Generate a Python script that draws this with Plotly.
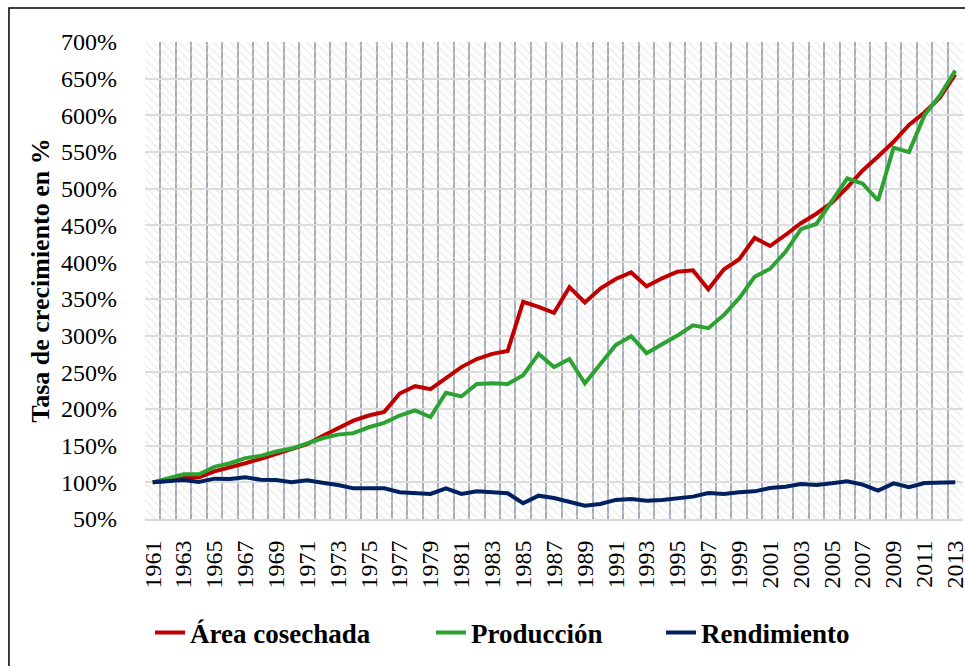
import plotly.graph_objects as go

years = list(range(1961, 2014))

area_cosechada = [100, 102, 106, 107, 115, 120, 126, 132, 139, 146,
                  152, 163, 174, 184, 191, 196, 221, 231, 227, 242,
                  257, 268, 275, 279, 346, 339, 331, 366, 345, 364,
                  377, 386, 367, 378, 387, 389, 363, 390, 404, 433,
                  422, 437, 453, 466, 481, 502, 525, 544, 564, 587,
                  604, 624, 656]

produccion = [100, 105, 111, 111, 121, 126, 133, 136, 142, 146,
              153, 160, 165, 167, 175, 181, 191, 198, 189, 222,
              217, 234, 235, 234, 246, 275, 257, 268, 235, 260,
              287, 299, 276, 288, 300, 314, 310, 328, 351, 380,
              391, 414, 445, 452, 482, 514, 507, 484, 556, 550,
              600, 627, 661]

rendimiento = [100, 101.8, 103, 100.5, 105, 104.5, 106.8, 103.6, 103.2, 100,
               102.7, 99.5, 96.4, 91.8, 91.8, 91.8, 86.4, 85.5, 84.1, 91.8,
               84.1, 87.7, 86.4, 85, 71.4, 81.8, 78.7, 73.7, 68.2, 70.5,
               76, 77.3, 75, 76, 77.8, 80.5, 85.5, 84.1, 86.4, 87.7,
               92.3, 94.1, 97.7, 96.4, 98.6, 101.4, 96.8, 88.6, 98.6, 93.2,
               99.1, 100, 100]

y_ticks = list(range(50, 701, 50))
y_ticktext = [f"{v}%" for v in y_ticks]
x_ticks = list(range(1961, 2014, 2))

series_names = ["Área cosechada", "Producción", "Rendimiento"]
series_colors = ["#c00000", "#2ca232", "#002060"]
legend_ids = ["legend", "legend2", "legend3"]
legend_x_px = [150, 431, 661]

Y_MIN, Y_MAX = 50, 700
W, H = 965, 666
FF = "Times New Roman, Liberation Serif, Times, serif"

fig = go.Figure()

# hatched plot background
fig.add_trace(go.Bar(
    x=years, y=[Y_MAX - Y_MIN] * len(years), base=Y_MIN, width=1,
    marker=dict(color="rgba(0,0,0,0)", line=dict(width=0),
                pattern=dict(shape="\\", fgcolor="#dedede", bgcolor="rgba(0,0,0,0)",
                             size=6, solidity=0.28)),
    hoverinfo="skip", showlegend=False,
))

for name, vals, col, lg in zip(series_names, [area_cosechada, produccion, rendimiento],
                               series_colors, legend_ids):
    fig.add_trace(go.Scatter(
        x=years, y=vals, mode="lines", name=name, legend=lg,
        line=dict(color=col, width=4),
    ))

legend_common = dict(orientation="h", xref="container", xanchor="left",
                     yref="container", y=1 - 633 / H, yanchor="middle",
                     font=dict(size=27, family=FF, weight="bold", color="black"),
                     bgcolor="rgba(0,0,0,0)", borderwidth=0)

layout_legends = {}
for lg, xp in zip(legend_ids, legend_x_px):
    layout_legends[lg] = dict(legend_common, x=xp / W)

fig.update_layout(
    width=W, height=H,
    margin=dict(l=145, r=2, t=42, b=147),
    paper_bgcolor="white", plot_bgcolor="white",
    font=dict(family=FF, color="black"),
    showlegend=True,
    xaxis=dict(range=[1960.5, 2013.5], tickvals=x_ticks, ticktext=[str(v) for v in x_ticks],
               tickangle=-90, tickfont=dict(size=24, family=FF, color="black"), showgrid=False,
               showline=True, linecolor="#d9d9d9", linewidth=2,
               ticks="", ticklabelstandoff=10, ticklabeloverflow="allow",
               minor=dict(tick0=1960.5, dtick=1, showgrid=True, gridcolor="#a3abb8", gridwidth=2.2),
               zeroline=False, fixedrange=True, automargin=False),
    yaxis=dict(range=[Y_MIN, Y_MAX], tickvals=y_ticks, ticktext=y_ticktext,
               tickfont=dict(size=24, family=FF, color="black"), showgrid=True,
               gridcolor="#dcdcdc", gridwidth=1.5,
               ticks="", ticklabelstandoff=27, zeroline=False, showline=False, automargin=False,
               fixedrange=True,
               title=dict(text="<b>Tasa de crecimiento en %</b>",
                          font=dict(size=26, family=FF, color="black"), standoff=3)),
    shapes=[dict(type="rect", xref="paper", yref="paper",
                 x0=-0.1663, x1=1.2, y0=-0.6, y1=1.0713,
                 line=dict(color="black", width=1.5), fillcolor="rgba(0,0,0,0)", layer="above")],
    **layout_legends,
)

fig.write_html("out.html", config={"displayModeBar": False},
               post_script="document.body.style.margin='0';")
